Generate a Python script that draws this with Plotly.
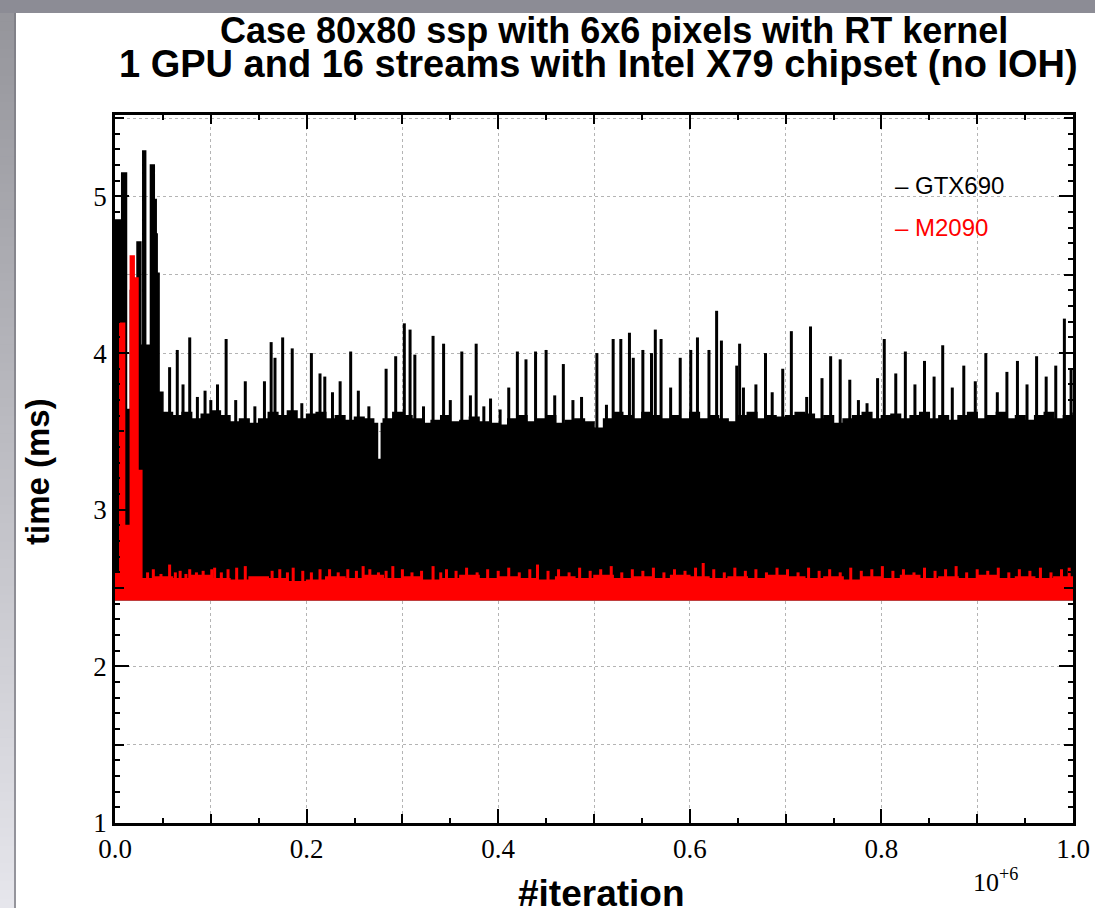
import plotly.graph_objects as go

# ---------------- data (x in units of 10^6 iterations, time in ms) ----------------
gtx_floor = 2.42
gtx_early_x   = [0.000, 0.007, 0.012, 0.016, 0.023, 0.027, 0.029, 0.032, 0.037, 0.041, 0.043, 0.044, 0.046]
gtx_early_top = [4.85, 5.15, 3.64, 4.40, 4.71, 4.05, 5.29, 4.05, 5.20, 4.98, 4.76, 4.51, 3.75]
gtx_band_x = [round(0.05 + 0.01 * i, 2) for i in range(96)]
gtx_band_top = [3.62, 3.60, 3.62, 3.58, 3.61, 3.63, 3.60, 3.56, 3.58, 3.55,
                3.58, 3.62, 3.60, 3.63, 3.58, 3.61, 3.62, 3.58, 3.60, 3.57,
                3.59, 3.58, 3.55, 3.58, 3.62, 3.60, 3.58, 3.55, 3.57, 3.60,
                3.56, 3.57, 3.59, 3.56, 3.55, 3.54, 3.58, 3.60, 3.56, 3.58,
                3.60, 3.55, 3.57, 3.58, 3.56, 3.52, 3.58, 3.62, 3.60, 3.58,
                3.62, 3.60, 3.58, 3.60, 3.58, 3.62, 3.58, 3.60, 3.58, 3.56,
                3.60, 3.62, 3.58, 3.60, 3.59, 3.60, 3.62, 3.61, 3.58, 3.60,
                3.55, 3.58, 3.60, 3.62, 3.58, 3.60, 3.61, 3.58, 3.60, 3.62,
                3.58, 3.60, 3.57, 3.60, 3.62, 3.58, 3.60, 3.62, 3.58, 3.60,
                3.57, 3.60, 3.62, 3.58, 3.60, 3.62]
gtx_dip_x = [0.274, 0.278]
gtx_dip_top = [3.32, 3.55]
gtx_spike_x = [0.057, 0.065, 0.071, 0.078, 0.086, 0.094, 0.100, 0.107, 0.116, 0.126,
               0.136, 0.146, 0.156, 0.163, 0.167, 0.175, 0.185, 0.195, 0.205, 0.214,
               0.219, 0.227, 0.235, 0.246, 0.254, 0.265, 0.283, 0.293, 0.302, 0.308,
               0.313, 0.322, 0.332, 0.343, 0.350, 0.362, 0.371, 0.377, 0.385, 0.392,
               0.402, 0.411, 0.420, 0.429, 0.439, 0.450, 0.459, 0.468, 0.478, 0.487,
               0.503, 0.513, 0.520, 0.528, 0.537, 0.541, 0.551, 0.560, 0.564, 0.570,
               0.580, 0.590, 0.601, 0.608, 0.620, 0.628, 0.633, 0.649, 0.652, 0.656,
               0.669, 0.679, 0.686, 0.697, 0.706, 0.722, 0.726, 0.738, 0.747, 0.757,
               0.767, 0.776, 0.785, 0.796, 0.803, 0.815, 0.825, 0.835, 0.845, 0.855,
               0.864, 0.874, 0.886, 0.898, 0.909, 0.921, 0.931, 0.942, 0.952, 0.962,
               0.972, 0.982, 0.991, 0.998]
gtx_spike_top = [3.91, 4.02, 3.80, 4.10, 3.72, 3.76, 3.70, 3.80, 4.09, 3.70,
                 3.82, 3.66, 3.82, 4.07, 3.97, 4.10, 4.03, 3.68, 4.00, 3.87,
                 3.85, 3.75, 3.82, 4.01, 3.76, 3.66, 3.90, 3.98, 4.19, 4.15,
                 3.99, 3.66, 4.11, 4.06, 3.70, 4.01, 3.73, 4.06, 3.66, 3.71,
                 3.64, 3.78, 4.01, 3.96, 4.01, 4.02, 3.73, 3.93, 3.70, 3.72,
                 4.00, 3.67, 4.09, 4.09, 4.13, 3.97, 4.02, 4.00, 4.15, 4.09,
                 3.78, 3.97, 4.02, 4.10, 4.02, 4.27, 4.08, 3.92, 4.06, 3.78,
                 3.80, 4.00, 3.75, 3.90, 4.14, 3.72, 4.17, 3.84, 3.98, 3.96,
                 3.83, 3.70, 3.68, 3.84, 4.09, 3.87, 4.01, 3.80, 3.95, 3.85,
                 4.05, 3.78, 3.92, 3.82, 4.00, 3.75, 3.88, 3.95, 3.80, 3.98,
                 3.85, 3.92, 4.22, 3.90]

m2090_floor = 2.42
m2090_early_x   = [0.000, 0.005, 0.010, 0.016, 0.020, 0.024]
m2090_early_top = [2.60, 4.19, 2.90, 4.62, 4.48, 3.25]
m2090_band_x = [0.028] + [round(0.04 + 0.02 * i, 2) for i in range(49)]
m2090_band_top = [2.56,
                  2.57, 2.56, 2.58, 2.56, 2.55, 2.57, 2.56, 2.54, 2.55, 2.57,
                  2.56, 2.58, 2.56, 2.57, 2.55, 2.56, 2.58, 2.56, 2.57, 2.56,
                  2.55, 2.57, 2.56, 2.58, 2.56, 2.57, 2.56, 2.58, 2.57, 2.56,
                  2.57, 2.56, 2.58, 2.57, 2.56, 2.57, 2.55, 2.57, 2.56, 2.58,
                  2.56, 2.57, 2.56, 2.58, 2.56, 2.57, 2.56, 2.57, 2.56]
m2090_spike_x = [0.034, 0.040, 0.048, 0.057, 0.063, 0.068, 0.074, 0.078, 0.085, 0.092,
                 0.101, 0.104, 0.111, 0.118, 0.127, 0.136, 0.164, 0.172, 0.180, 0.186,
                 0.196, 0.205, 0.214, 0.224, 0.233, 0.243, 0.252, 0.259, 0.266, 0.275,
                 0.283, 0.290, 0.300, 0.310, 0.320, 0.332, 0.340, 0.346, 0.356, 0.367,
                 0.378, 0.389, 0.400, 0.411, 0.422, 0.433, 0.441, 0.452, 0.463, 0.474,
                 0.485, 0.496, 0.507, 0.518, 0.529, 0.540, 0.551, 0.562, 0.573, 0.584,
                 0.595, 0.606, 0.614, 0.625, 0.636, 0.647, 0.658, 0.669, 0.680, 0.691,
                 0.702, 0.713, 0.724, 0.735, 0.746, 0.757, 0.768, 0.779, 0.790, 0.801,
                 0.812, 0.823, 0.834, 0.845, 0.856, 0.867, 0.878, 0.889, 0.900, 0.911,
                 0.922, 0.933, 0.944, 0.955, 0.966, 0.977, 0.988, 0.996]
m2090_spike_top = [2.60, 2.62, 2.59, 2.65, 2.60, 2.61, 2.59, 2.62, 2.60, 2.61,
                   2.62, 2.63, 2.60, 2.62, 2.63, 2.64, 2.61, 2.62, 2.60, 2.63,
                   2.61, 2.60, 2.62, 2.62, 2.60, 2.62, 2.61, 2.64, 2.62, 2.60,
                   2.61, 2.64, 2.62, 2.60, 2.61, 2.64, 2.60, 2.62, 2.61, 2.63,
                   2.60, 2.62, 2.61, 2.63, 2.60, 2.62, 2.65, 2.61, 2.62, 2.60,
                   2.63, 2.61, 2.62, 2.64, 2.60, 2.62, 2.61, 2.63, 2.60, 2.62,
                   2.61, 2.63, 2.66, 2.62, 2.60, 2.63, 2.61, 2.62, 2.60, 2.63,
                   2.62, 2.60, 2.63, 2.61, 2.62, 2.60, 2.63, 2.61, 2.62, 2.64,
                   2.61, 2.62, 2.60, 2.63, 2.61, 2.62, 2.64, 2.60, 2.62, 2.61,
                   2.63, 2.60, 2.62, 2.61, 2.63, 2.60, 2.62, 2.63]

series_names = ["GTX690", "M2090"]
series_colors = ["#000000", "#ff0000"]
x_tick_vals = [0.0, 0.2, 0.4, 0.6, 0.8, 1.0]
x_tick_text = ["0.0", "0.2", "0.4", "0.6", "0.8", "1.0"]
y_tick_vals = [1, 2, 3, 4, 5]
y_tick_text = ["1", "2", "3", "4", "5"]
title_lines = ["Case 80x80 ssp with 6x6 pixels with RT kernel",
               "1 GPU and 16 streams with Intel X79 chipset (no IOH)"]
X_RANGE = [0, 1.0]
Y_RANGE = [1, 5.52]

# ---------------- layout geometry ----------------
W, H = 1095, 908
L, R, T, B = 115, 22, 115, 85
PW, PH = W - L - R, H - T - B


def pxx(p):
    return (p - L) / PW


def pxy(p):
    return (H - B - p) / PH


def envelope(parts):
    pts = []
    for xs, ys in parts:
        pts += list(zip(xs, ys))
    pts.sort()
    return [p[0] for p in pts], [p[1] for p in pts]


def spikes(xs, tops, base):
    sx, sy = [], []
    for x, t in zip(xs, tops):
        sx += [x, x, None]
        sy += [base, t, None]
    return sx, sy


fig = go.Figure()

# GTX690
gx, gy = envelope([(gtx_early_x, gtx_early_top), (gtx_band_x, gtx_band_top), (gtx_dip_x, gtx_dip_top)])
fig.add_trace(go.Scatter(x=[0, 1.0], y=[gtx_floor, gtx_floor], mode="lines",
                         line=dict(width=0, color=series_colors[0]), showlegend=False, hoverinfo="skip"))
fig.add_trace(go.Scatter(x=gx, y=gy, mode="lines", line=dict(width=1.5, color=series_colors[0], shape="hv"),
                         fill="tonexty", fillcolor=series_colors[0], name=series_names[0], showlegend=False))
sx, sy = spikes(gtx_spike_x, gtx_spike_top, 3.2)
fig.add_trace(go.Scatter(x=sx, y=sy, mode="lines", line=dict(width=3, color=series_colors[0]),
                         showlegend=False, hoverinfo="skip"))

# M2090
mx, my = envelope([(m2090_early_x, m2090_early_top), (m2090_band_x, m2090_band_top)])
fig.add_trace(go.Scatter(x=[0, 1.0], y=[m2090_floor, m2090_floor], mode="lines",
                         line=dict(width=0, color=series_colors[1]), showlegend=False, hoverinfo="skip"))
fig.add_trace(go.Scatter(x=mx, y=my, mode="lines", line=dict(width=1.5, color=series_colors[1], shape="hv"),
                         fill="tonexty", fillcolor=series_colors[1], name=series_names[1], showlegend=False))
sx, sy = spikes(m2090_spike_x, m2090_spike_top, 2.5)
fig.add_trace(go.Scatter(x=sx, y=sy, mode="lines", line=dict(width=3, color=series_colors[1]),
                         showlegend=False, hoverinfo="skip"))

# invisible trace to host the fine-tick overlay axes
fig.add_trace(go.Scatter(x=[None], y=[None], xaxis="x2", yaxis="y2", showlegend=False, hoverinfo="skip"))

serif = "Liberation Serif, Times New Roman, serif"
sans = "Liberation Sans, Arial, Helvetica, sans-serif"

axis_common = dict(
    ticks="inside", ticklen=14, tickwidth=1.5, tickcolor="black",
    showline=True, linewidth=2.5, linecolor="black", mirror="ticks",
    showgrid=False, zeroline=False, tickfont=dict(family=serif, size=27, color="black"),
)
grid_minor = dict(ticks="inside", ticklen=9, tickwidth=1.5, tickcolor="black",
                  showgrid=True, gridcolor="#b4b4b4", griddash="dot", gridwidth=1)

fig.update_layout(
    xaxis=dict(range=X_RANGE, tickmode="array", tickvals=x_tick_vals, ticktext=x_tick_text,
               minor=dict(dtick=0.1, tick0=0, **grid_minor), **axis_common),
    yaxis=dict(range=Y_RANGE, tickmode="array", tickvals=y_tick_vals, ticktext=y_tick_text,
               minor=dict(dtick=0.5, tick0=1, **grid_minor), **axis_common),
    xaxis2=dict(range=X_RANGE, overlaying="x", anchor="y2", side="bottom", dtick=0.05, tick0=0,
                ticks="inside", ticklen=5, tickwidth=1.5, tickcolor="black", showticklabels=False,
                showgrid=False, zeroline=False, showline=False, mirror="ticks"),
    yaxis2=dict(range=Y_RANGE, overlaying="y", anchor="x2", side="left", dtick=0.1, tick0=1,
                ticks="inside", ticklen=5, tickwidth=1.5, tickcolor="black", showticklabels=False,
                showgrid=False, zeroline=False, showline=False, mirror="ticks"),
)

annotations = [
    dict(text="<b>" + title_lines[0] + "</b>", x=pxx(614), y=pxy(30), font=dict(family=sans, size=36, color="black"),
         xanchor="center", yanchor="middle"),
    dict(text="<b>" + title_lines[1] + "</b>", x=pxx(598), y=pxy(64), font=dict(family=sans, size=38, color="black"),
         xanchor="center", yanchor="middle"),
    dict(text="<b>time (ms)</b>", x=pxx(37), y=pxy(472), textangle=-90,
         font=dict(family=sans, size=33, color="black"), xanchor="center", yanchor="middle"),
    dict(text="<b>#iteration</b>", x=pxx(601), y=pxy(893),
         font=dict(family=sans, size=37, color="black"), xanchor="center", yanchor="middle"),
    dict(text="10<sup>+6</sup>", x=pxx(995), y=pxy(880),
         font=dict(family=serif, size=26, color="black"), xanchor="center", yanchor="middle"),
    dict(text="\u2013 " + series_names[0], x=pxx(893), y=pxy(185),
         font=dict(family=sans, size=24, color=series_colors[0]), xanchor="left", yanchor="middle"),
    dict(text="\u2013 " + series_names[1], x=pxx(893), y=pxy(228),
         font=dict(family=sans, size=24, color=series_colors[1]), xanchor="left", yanchor="middle"),
]
for a in annotations:
    a.update(xref="paper", yref="paper", showarrow=False)

# window-frame grey: grey paper, white canvas rectangle below everything, gradient left strip
shapes = [dict(type="rect", xref="paper", yref="paper", x0=pxx(16), x1=pxx(W + 5), y0=pxy(H + 5), y1=pxy(13),
               fillcolor="white", line=dict(width=0), layer="below")]
n = 100
for i in range(n):
    y0p = 13 + (H - 13) * i / n
    y1p = 13 + (H - 13) * (i + 1) / n
    f = i / (n - 1)
    c = int(150 + f * 80)
    shapes.append(dict(type="rect", xref="paper", yref="paper", x0=pxx(-2), x1=pxx(16),
                       y0=pxy(y1p + 1), y1=pxy(y0p), fillcolor=f"rgb({c},{c},{c + 6})",
                       line=dict(width=0), layer="below"))
shapes.append(dict(type="line", xref="paper", yref="paper", x0=pxx(15), x1=pxx(15), y0=pxy(H), y1=pxy(13),
                   line=dict(width=1.5, color="#7a7a82"), layer="below"))

fig.update_layout(width=W, height=H, margin=dict(l=L, r=R, t=T, b=B, autoexpand=False),
                  paper_bgcolor="#8c8c95", plot_bgcolor="white", showlegend=False,
                  annotations=annotations, shapes=shapes)

fig.write_html("out.html", config={"displayModeBar": False},
               post_script="document.body.style.margin='0';document.body.style.padding='0';")
